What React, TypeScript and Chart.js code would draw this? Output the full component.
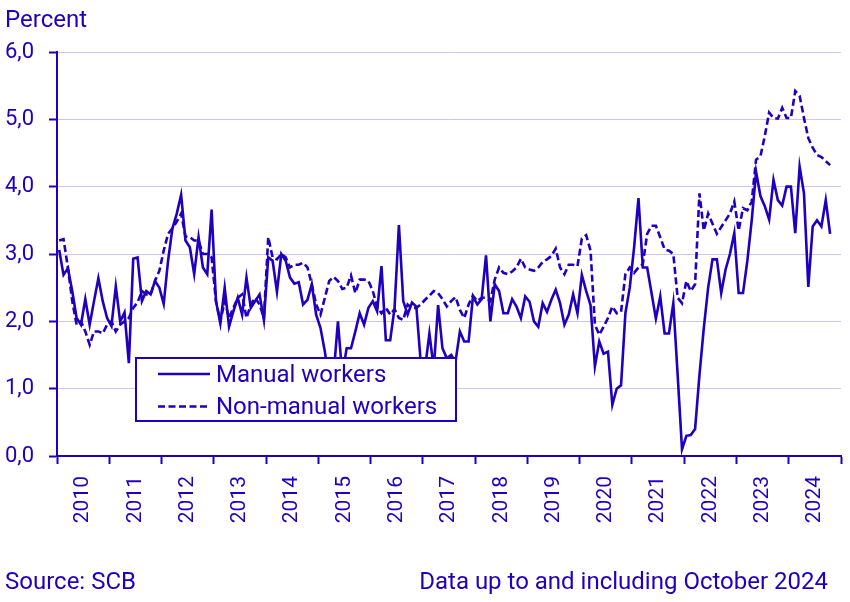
import { useEffect, useRef } from 'react';
import { Chart, registerables } from 'chart.js';

Chart.register(...registerables);

const BLUE = '#1e00be';
const GRID = '#c9c6f0';
const FONT = 'Roboto';

const yearLabels = ['2010', '2011', '2012', '2013', '2014', '2015', '2016', '2017', '2018', '2019', '2020', '2021', '2022', '2023', '2024'];
const yTickValues = [0, 1, 2, 3, 4, 5, 6];
const seriesLabels = ['Manual workers', 'Non-manual workers'];
const unitLabel = 'Percent';
const sourceText = 'Source: SCB';
const noteText = 'Data up to and including October 2024';

// Monthly values, Jan 2010 - Oct 2024
const manual = [
  3.06, 2.69, 2.79, 2.45, 2.05, 1.95, 2.33, 1.95, 2.3, 2.64, 2.3, 2.05,
  1.93, 2.52, 2.0, 2.13, 1.38, 2.93, 2.95, 2.3, 2.45, 2.4, 2.6, 2.5,
  2.26, 2.9, 3.38, 3.6, 3.88, 3.2, 3.1, 2.7, 3.25, 2.8, 2.7, 3.66,
  2.3, 1.97, 2.5, 1.92, 2.15, 2.35, 2.1, 2.65, 2.2, 2.3, 2.4, 2.02,
  2.95, 2.9, 2.44, 3.0, 2.9, 2.65, 2.56, 2.58, 2.25, 2.32, 2.55, 2.1,
  1.9, 1.55, 1.1, 1.2, 2.0, 1.2, 1.6, 1.6, 1.85, 2.12, 1.95, 2.2,
  2.3, 2.15, 2.82, 1.72, 1.72, 2.2, 3.43, 2.3, 2.1, 2.28, 2.22, 1.4,
  1.3, 1.82, 1.3, 2.24, 1.6, 1.45, 1.5, 1.4, 1.85, 1.7, 1.7, 2.37,
  2.25, 2.33, 2.98, 2.0, 2.55, 2.45, 2.12, 2.12, 2.33, 2.22, 2.05, 2.37,
  2.29, 2.0, 1.92, 2.27, 2.14, 2.32, 2.47, 2.27, 1.95, 2.1, 2.4, 2.12,
  2.69, 2.45, 2.24, 1.33, 1.7, 1.52, 1.55, 0.76, 1.0, 1.05, 2.12, 2.5,
  3.1, 3.83, 2.8, 2.8, 2.42, 2.04, 2.37, 1.82, 1.82, 2.27, 1.2, 0.1,
  0.3, 0.31, 0.4, 1.2, 1.9, 2.5, 2.92, 2.92, 2.42, 2.77, 3.0, 3.31,
  2.42, 2.42, 2.9, 3.5, 4.22, 3.86, 3.71, 3.51, 4.1, 3.8, 3.72, 4.0,
  4.0, 3.31, 4.3, 3.9, 2.51, 3.41, 3.5, 3.41, 3.8, 3.3,
];

const nonManual = [
  3.2, 3.22, 2.8, 2.3, 1.95, 2.0, 1.85, 1.65, 1.85, 1.85, 1.82, 1.95,
  2.0, 1.85, 1.95, 2.0, 2.05, 2.2, 2.28, 2.45, 2.4, 2.4, 2.6, 2.75,
  3.05, 3.3, 3.38, 3.48, 3.6, 3.26, 3.25, 3.2, 3.2, 3.0, 3.0, 2.95,
  2.3, 2.0, 2.3, 2.05, 2.2, 2.35, 2.4, 2.05, 2.25, 2.35, 2.25, 2.05,
  3.25, 2.95, 2.92, 3.0, 2.95, 2.8, 2.84, 2.84, 2.87, 2.8, 2.55, 2.25,
  2.1, 2.35, 2.6, 2.66, 2.6, 2.48, 2.5, 2.68, 2.42, 2.62, 2.62, 2.6,
  2.45, 2.22, 2.12, 2.2, 2.1, 2.18, 2.05, 2.02, 2.25, 2.2, 2.2, 2.25,
  2.32, 2.38, 2.45, 2.42, 2.33, 2.22, 2.3, 2.36, 2.17, 2.05, 2.25, 2.38,
  2.3, 2.35, 2.35, 2.3, 2.62, 2.8, 2.72, 2.7, 2.74, 2.8, 2.93, 2.8,
  2.77, 2.75, 2.8, 2.88, 2.92, 2.97, 3.08, 2.8, 2.7, 2.84, 2.84, 2.82,
  3.23, 3.28, 3.05, 1.95, 1.8, 1.92, 2.05, 2.22, 2.12, 2.14, 2.7, 2.8,
  2.72, 2.8, 2.85, 3.3, 3.42, 3.42, 3.25, 3.07, 3.05, 3.0, 2.35, 2.27,
  2.6, 2.45, 2.55, 3.9, 3.35, 3.6, 3.45, 3.3, 3.4, 3.5, 3.6, 3.78,
  3.35, 3.68, 3.65, 3.78, 4.4, 4.45, 4.75, 5.1, 5.02, 5.01, 5.17, 5.02,
  5.02, 5.42, 5.35, 5.02, 4.72, 4.58, 4.47, 4.44, 4.38, 4.32,
];

const toPoints = (arr: number[]) => arr.map((v, i) => ({ x: i + 0.5, y: v }));

const TEXT_FONT = `24px ${FONT}`;

const overlayPlugin = {
  id: 'overlay',
  afterDatasetsDraw(chart: any) {
    const ctx = chart.ctx as CanvasRenderingContext2D;
    ctx.save();
    ctx.fillStyle = '#ffffff';
    ctx.fillRect(136, 358, 320, 63);
    ctx.strokeStyle = BLUE;
    ctx.lineWidth = 2;
    ctx.setLineDash([]);
    ctx.strokeRect(136, 358, 320, 63);
    const rows = [
      { line: 374, base: 381.5 },
      { line: 406.5, base: 414 },
    ];
    chart.data.datasets.forEach((ds: any, k: number) => {
      const r = rows[k];
      ctx.beginPath();
      ctx.setLineDash(ds.borderDash || []);
      ctx.lineWidth = ds.borderWidth;
      ctx.strokeStyle = BLUE;
      ctx.moveTo(158, r.line);
      ctx.lineTo(210, r.line);
      ctx.stroke();
      ctx.setLineDash([]);
      ctx.fillStyle = BLUE;
      ctx.font = TEXT_FONT;
      ctx.textAlign = 'left';
      ctx.textBaseline = 'alphabetic';
      ctx.fillText(ds.label, 216, r.base);
    });
    ctx.restore();
  },
  afterDraw(chart: any) {
    const ctx = chart.ctx as CanvasRenderingContext2D;
    ctx.save();
    ctx.fillStyle = BLUE;
    ctx.font = TEXT_FONT;
    ctx.textBaseline = 'alphabetic';
    ctx.textAlign = 'left';
    ctx.fillText(unitLabel, 5, 27);
    ctx.fillText(sourceText, 5, 589);
    ctx.textAlign = 'right';
    ctx.fillText(noteText, 828, 589);
    ctx.restore();
  },
};

export default function App() {
  const ref = useRef<HTMLCanvasElement | null>(null);

  useEffect(() => {
    if (!ref.current) return;
    const totalMonths = yearLabels.length * 12;
    const chart = new Chart(ref.current, {
      type: 'line',
      data: {
        datasets: [
          {
            label: seriesLabels[0],
            data: toPoints(manual),
            borderColor: BLUE,
            borderWidth: 2.6,
            pointRadius: 0,
            tension: 0,
            fill: false,
          },
          {
            label: seriesLabels[1],
            data: toPoints(nonManual),
            borderColor: BLUE,
            borderWidth: 2.6,
            borderDash: [7, 3.5],
            pointRadius: 0,
            tension: 0,
            fill: false,
          },
        ],
      },
      options: {
        animation: false,
        responsive: false,
        devicePixelRatio: 1,
        layout: { padding: { top: 52, right: 9, bottom: 0, left: 0 } },
        plugins: {
          legend: { display: false },
          tooltip: { enabled: false },
          title: { display: false },
        },
        scales: {
          x: {
            type: 'linear',
            min: 0,
            max: totalMonths,
            afterFit: (scale: any) => {
              scale.height = 146;
              scale.paddingLeft = 0;
              scale.paddingRight = 0;
            },
            afterBuildTicks: (scale: any) => {
              const t = [];
              for (let v = 0; v <= totalMonths; v += 6) t.push({ value: v });
              scale.ticks = t;
            },
            border: { display: true, color: BLUE, width: 2 },
            grid: {
              drawOnChartArea: false,
              drawTicks: true,
              tickLength: 8,
              tickWidth: 2,
              tickColor: (c: any) => (c.tick && c.tick.value % 12 === 0 ? BLUE : 'rgba(0,0,0,0)'),
            },
            ticks: {
              autoSkip: false,
              minRotation: 90,
              maxRotation: 90,
              padding: 12,
              color: BLUE,
              font: { family: FONT, size: 21 },
              callback: (value: any) => {
                const v = Number(value);
                return v % 12 === 6 ? yearLabels[(v - 6) / 12] : '';
              },
            },
          },
          y: {
            type: 'linear',
            min: yTickValues[0],
            max: yTickValues[yTickValues.length - 1],
            afterFit: (scale: any) => {
              scale.width = 57;
              scale.paddingTop = 0;
              scale.paddingBottom = 0;
            },
            afterBuildTicks: (scale: any) => {
              scale.ticks = yTickValues.map((v) => ({ value: v }));
            },
            border: { display: true, color: BLUE, width: 2 },
            grid: {
              color: GRID,
              lineWidth: 1,
              drawTicks: true,
              tickLength: 8,
              tickWidth: 2,
              tickColor: BLUE,
            },
            ticks: {
              padding: 15,
              color: BLUE,
              font: { family: FONT, size: 22 },
              callback: (value: any) => Number(value).toFixed(1).replace('.', ','),
            },
          },
        },
      },
      plugins: [overlayPlugin],
    });
    return () => chart.destroy();
  }, []);

  return (
    <div style={{ position: 'fixed', left: 0, top: 0, width: 850, height: 602, background: '#ffffff' }}>
      <canvas ref={ref} width={850} height={602} style={{ display: 'block', width: 850, height: 602 }} />
    </div>
  );
}
